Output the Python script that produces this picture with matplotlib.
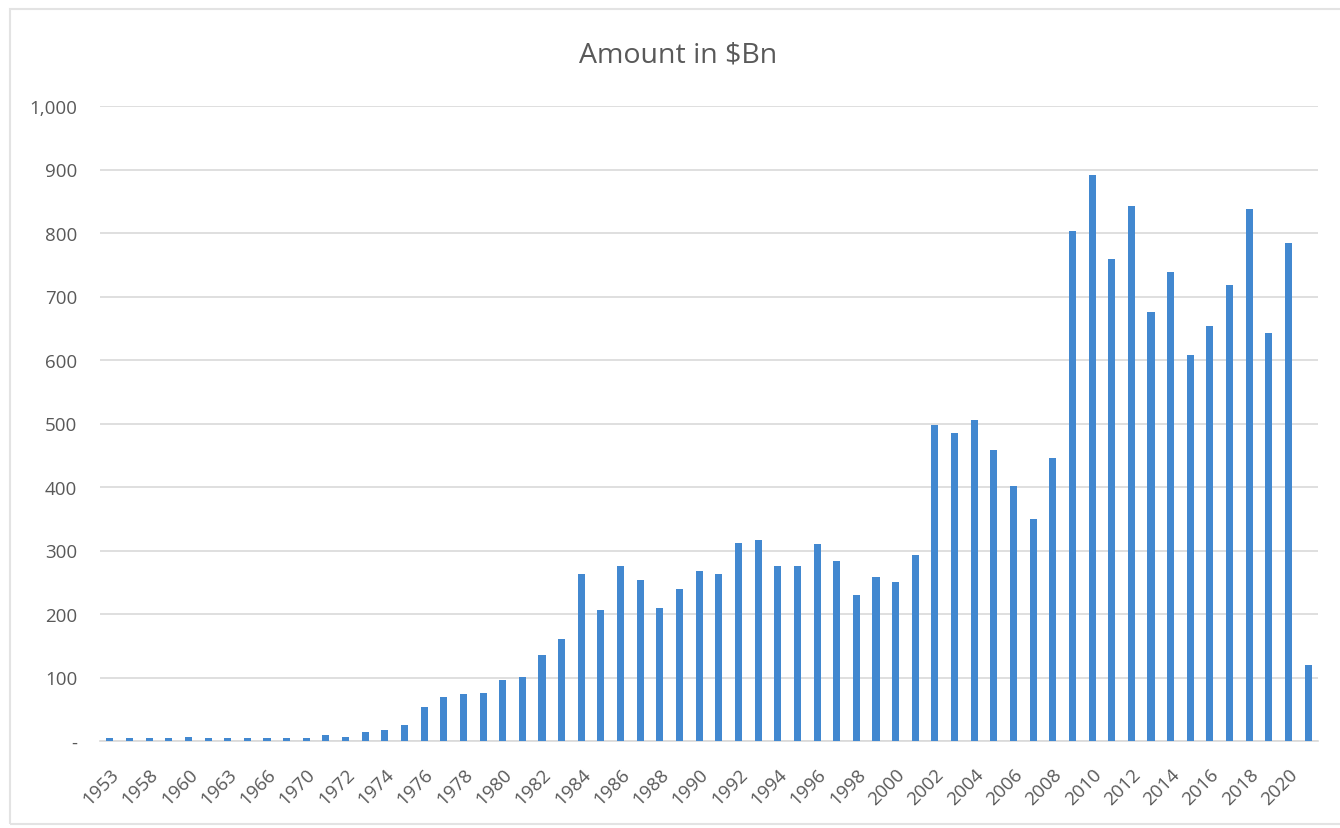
import numpy as np
import matplotlib
matplotlib.use("Agg")
from matplotlib import pyplot as plt
from matplotlib.ticker import FuncFormatter

# years shown as categories (early years are not consecutive)
years = [1953, 1957, 1958, 1959, 1960, 1962, 1963, 1965, 1966, 1969, 1970, 1971] + list(range(1972, 2022))

# amount in $Bn
amount = [4, 4, 4, 4, 7, 4, 4, 4, 4, 4, 4, 9,
          7, 14, 17, 25, 53, 70, 74, 76, 96, 101, 135, 160,
          263, 207, 276, 253, 209, 240, 268, 263, 312, 317, 276, 276,
          310, 283, 230, 258, 250, 293, 498, 485, 505, 459, 401, 349,
          446, 803, 892, 759, 843, 675, 739, 608, 654, 718, 838, 642,
          785, 119]

txt = "#595959"
grid = "#d9d9d9"
bar_col = "#4288d0"

plt.rcParams['font.family'] = ['Open Sans', 'DejaVu Sans']

fig = plt.figure(figsize=(13.4, 8.29), dpi=100)
ax = fig.add_axes([100/1340, 1-742/829, 1218/1340, 635/829])

x = np.arange(len(years))
ax.bar(x, amount, width=0.36, color=bar_col, zorder=3)

ax.set_xlim(-0.5, len(years)-0.5)
ax.set_ylim(0, 1000)
ax.set_yticks(np.arange(0, 1001, 100))
ax.yaxis.set_major_formatter(FuncFormatter(lambda v, p: "-" if v == 0 else "{:,.0f}".format(v)))
ax.grid(axis="y", color=grid, linewidth=1.2, zorder=0)

ax.set_xticks(x[::2])
ax.set_xticklabels([str(y) for y in years[::2]], rotation=45, ha="right", rotation_mode="anchor")

for s in ["top", "right", "left"]:
    ax.spines[s].set_visible(False)
ax.spines["bottom"].set_color(grid)
ax.spines["bottom"].set_linewidth(1.2)
ax.tick_params(axis="both", length=0, colors=txt, labelsize=13.5)
ax.tick_params(axis="y", pad=16.5)
ax.tick_params(axis="x", pad=17)

fig.text(678/1340, 1-55/829, "Amount in $Bn", ha="center", va="center", fontsize=20.5, color=txt)

# light frame around the chart
fig.add_artist(plt.Rectangle((10/1340, 4/829), 1340, 815/829, transform=fig.transFigure,
                             fill=False, edgecolor="#e3e3e3", linewidth=1.5))

fig.savefig("out.png", dpi=100, facecolor="white")
